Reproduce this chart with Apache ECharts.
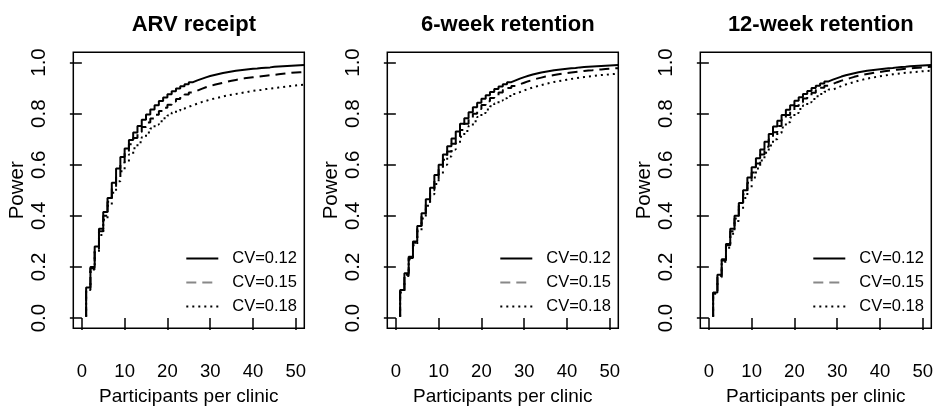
<!DOCTYPE html>
<html><head><meta charset="utf-8">
<script src="https://cdn.jsdelivr.net/npm/echarts@6/dist/echarts.min.js"></script>
<style>html,body{margin:0;padding:0;background:#fff}#c{width:939px;height:414px}</style>
</head><body><div id="c"></div>
<script>
const panelTitles = ['ARV receipt', '6-week retention', '12-week retention'];
const cvLabels = ['CV=0.12', 'CV=0.15', 'CV=0.18'];
const xAxisTitle = 'Participants per clinic';
const yAxisTitle = 'Power';
const xTicks = [0, 10, 20, 30, 40, 50];
const yTicks = [0, 0.2, 0.4, 0.6, 0.8, 1.0];
const participants = [1,2,3,4,5,6,7,8,9,10,11,12,13,14,15,16,17,18,19,20,21,22,23,24,25,26,27,28,29,30,31,32,33,34,35,36,37,38,39,40,41,42,43,44,45,46,47,48,49,50,51,52];

const arvCv12 = [0.006,0.12,0.20,0.28,0.35,0.415,0.47,0.53,0.585,0.63,0.664,0.697,0.726,0.752,0.776,0.797,0.816,0.833,0.849,0.863,0.876,0.888,0.898,0.907,0.915,0.923,0.93,0.936,0.942,0.947,0.951,0.955,0.959,0.962,0.965,0.968,0.97,0.972,0.974,0.976,0.977,0.979,0.98,0.981,0.983,0.984,0.985,0.986,0.987,0.988,0.989,0.99];
const arvCv15 = [0.005,0.115,0.195,0.27,0.34,0.40,0.455,0.51,0.56,0.61,0.65,0.68,0.705,0.728,0.748,0.765,0.781,0.796,0.81,0.823,0.835,0.847,0.857,0.866,0.875,0.883,0.89,0.897,0.903,0.908,0.913,0.917,0.921,0.925,0.929,0.932,0.935,0.938,0.94,0.942,0.944,0.946,0.948,0.95,0.952,0.954,0.956,0.958,0.96,0.961,0.962,0.963];
const arvCv18 = [0.005,0.11,0.19,0.26,0.325,0.385,0.44,0.49,0.535,0.575,0.61,0.64,0.665,0.688,0.708,0.726,0.742,0.757,0.77,0.782,0.793,0.803,0.812,0.82,0.827,0.833,0.839,0.845,0.85,0.855,0.859,0.863,0.867,0.871,0.874,0.877,0.88,0.883,0.886,0.889,0.891,0.893,0.896,0.898,0.90,0.902,0.904,0.906,0.908,0.91,0.912,0.914];

const wk6Cv12 = [0.006,0.11,0.175,0.24,0.30,0.36,0.41,0.465,0.51,0.56,0.60,0.64,0.672,0.703,0.73,0.76,0.782,0.805,0.825,0.843,0.858,0.872,0.885,0.896,0.906,0.915,0.923,0.93,0.937,0.943,0.948,0.953,0.957,0.961,0.964,0.967,0.97,0.972,0.974,0.976,0.978,0.979,0.981,0.982,0.983,0.984,0.985,0.986,0.987,0.988,0.989,0.99];
const wk6Cv15 = [0.005,0.105,0.17,0.235,0.295,0.35,0.40,0.455,0.50,0.545,0.585,0.62,0.652,0.682,0.71,0.736,0.76,0.781,0.80,0.818,0.834,0.848,0.861,0.872,0.883,0.892,0.90,0.908,0.915,0.921,0.927,0.932,0.937,0.941,0.945,0.948,0.951,0.954,0.957,0.959,0.961,0.963,0.965,0.967,0.969,0.97,0.972,0.973,0.975,0.976,0.977,0.978];
const wk6Cv18 = [0.005,0.10,0.165,0.23,0.285,0.34,0.39,0.44,0.485,0.525,0.565,0.60,0.632,0.66,0.686,0.71,0.732,0.752,0.77,0.787,0.802,0.816,0.829,0.84,0.851,0.86,0.869,0.877,0.884,0.891,0.897,0.902,0.907,0.912,0.916,0.92,0.924,0.927,0.93,0.933,0.936,0.938,0.941,0.943,0.945,0.947,0.949,0.951,0.952,0.954,0.955,0.957];

const wk12Cv12 = [0.006,0.10,0.17,0.23,0.29,0.35,0.40,0.45,0.50,0.55,0.59,0.625,0.66,0.69,0.72,0.75,0.772,0.795,0.815,0.833,0.85,0.864,0.877,0.889,0.90,0.909,0.918,0.926,0.933,0.939,0.945,0.95,0.954,0.958,0.962,0.965,0.968,0.97,0.972,0.974,0.976,0.978,0.979,0.981,0.982,0.983,0.985,0.986,0.987,0.988,0.989,0.99];
const wk12Cv15 = [0.005,0.098,0.165,0.225,0.285,0.34,0.39,0.44,0.485,0.53,0.57,0.605,0.64,0.67,0.70,0.727,0.752,0.774,0.795,0.813,0.83,0.845,0.859,0.871,0.882,0.892,0.901,0.909,0.916,0.923,0.929,0.934,0.939,0.944,0.948,0.952,0.955,0.958,0.961,0.963,0.966,0.968,0.97,0.972,0.974,0.976,0.977,0.979,0.98,0.981,0.982,0.983];
const wk12Cv18 = [0.005,0.095,0.16,0.22,0.275,0.33,0.38,0.425,0.47,0.51,0.55,0.585,0.617,0.647,0.675,0.70,0.724,0.746,0.766,0.785,0.802,0.818,0.832,0.845,0.857,0.868,0.877,0.886,0.894,0.901,0.908,0.914,0.919,0.924,0.929,0.933,0.937,0.94,0.943,0.946,0.949,0.951,0.954,0.956,0.958,0.96,0.961,0.963,0.964,0.966,0.967,0.968];

const panelData = [[arvCv12, arvCv15, arvCv18], [wk6Cv12, wk6Cv15, wk6Cv18], [wk12Cv12, wk12Cv15, wk12Cv18]];

const FONT = "'Liberation Sans', Arial, Helvetica, sans-serif";
const boxLefts = [73.3, 387.3, 700.3];
const boxW = 231, boxTop = 52.3, boxH = 276;
const lineTypes = ['solid', [10, 6], [2, 4]];
const legendColors = ['#000', '#888', '#000'];

const grids = [], xAxes = [], yAxes = [], series = [], titles = [], legends = [];
panelTitles.forEach((t, p) => {
  grids.push({ left: boxLefts[p], top: boxTop, width: boxW, height: boxH, show: true,
    borderColor: '#000', borderWidth: 1.5, backgroundColor: 'transparent', containLabel: false });
  xAxes.push({ type: 'value', gridIndex: p, min: -2, max: 52,
    axisLine: { show: false }, splitLine: { show: false },
    axisTick: { show: true, inside: false, length: 12, customValues: xTicks, lineStyle: { color: '#000', width: 1.5 } },
    axisLabel: { customValues: xTicks, margin: 34, color: '#000', fontSize: 18.5, fontFamily: FONT },
    name: xAxisTitle, nameLocation: 'middle', nameGap: 59,
    nameTextStyle: { color: '#000', fontSize: 19, fontFamily: FONT } });
  yAxes.push({ type: 'value', gridIndex: p, min: -0.04, max: 1.04,
    axisLine: { show: false }, splitLine: { show: false },
    axisTick: { show: true, inside: false, length: 12, customValues: yTicks, lineStyle: { color: '#000', width: 1.5 } },
    axisLabel: { customValues: yTicks, rotate: 90, margin: 23, color: '#000', fontSize: 20.5, fontFamily: FONT,
      formatter: v => v.toFixed(1) },
    name: yAxisTitle, nameLocation: 'middle', nameGap: 45, nameRotate: 90,
    nameTextStyle: { color: '#000', fontSize: 20.5, fontFamily: FONT } });
  titles.push({ text: t, left: boxLefts[p] + boxW / 2, top: 9, textAlign: 'center',
    textStyle: { color: '#000', fontSize: 22, fontWeight: 'bold', fontFamily: FONT } });
  panelData[p].forEach((vals, k) => {
    series.push({ type: 'line', name: cvLabels[k], xAxisIndex: p, yAxisIndex: p,
      data: participants.map((x, i) => [x, vals[i]]), step: 'start', symbol: 'none', showSymbol: false,
      clip: true, silent: true, animation: false,
      lineStyle: { color: '#000', width: 2, type: lineTypes[k] } });
  });
  legends.push({ orient: 'vertical', left: boxLefts[p] + 112, top: 249.5, padding: 0,
    itemWidth: 32, itemHeight: 12, itemGap: 6, selectedMode: false,
    textStyle: { color: '#000', fontSize: 16.5, fontFamily: FONT, padding: [0, 0, 0, 9], lineHeight: 18 },
    data: cvLabels.map((n, k) => ({ name: n,
      lineStyle: { color: legendColors[k], width: 2, type: lineTypes[k] },
      itemStyle: { color: legendColors[k], opacity: 0, borderWidth: 0 } })) });
});

const chart = echarts.init(document.getElementById('c'), null, { renderer: 'canvas' });
chart.setOption({ backgroundColor: '#fff', animation: false, title: titles, grid: grids,
  xAxis: xAxes, yAxis: yAxes, legend: legends, series: series });
</script></body></html>
